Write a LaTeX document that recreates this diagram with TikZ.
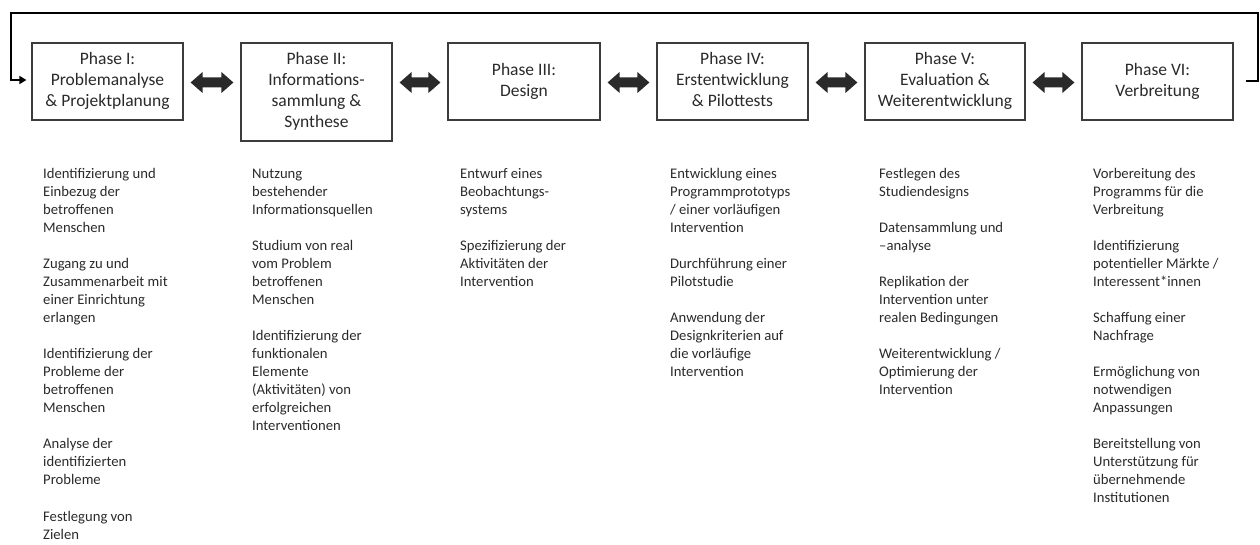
\documentclass[tikz,border=0pt]{standalone}
\usepackage{fontspec}
\setmainfont{Carlito}
\usetikzlibrary{calc,arrows.meta}

\definecolor{ink}{HTML}{2A2A2A}
\definecolor{frame}{HTML}{3C3C3C}

% text blocks: phase titles (centred) and activity lists (top-aligned)
\newcommand\phaselabel[1]{\fontsize{17.5bp}{21bp}\selectfont\begin{tabular}{@{}c@{}}#1\end{tabular}}
\newcommand\steplist[1]{\fontsize{14.67bp}{18bp}\selectfont\begin{tabular}[t]{@{}l@{}}#1\end{tabular}}
\newcommand\gap{\\[18bp]}

% thick two-headed block arrow between two tip coordinates
\newcommand\dblarrow[2]{%
  \fill[ink] (#1) -- ++(12bp,10.5bp) -- ++(0,-5.5bp) -- ($(#2)+(-12bp,5bp)$)
    -- ++(0,5.5bp) -- (#2) -- ++(-12bp,-10.5bp) -- ++(0,5.5bp)
    -- ($(#1)+(12bp,-5bp)$) -- ++(0,-5.5bp) -- cycle;}

\tikzset{
  phase/.style={draw=frame, line width=1.2bp, fill=white, inner sep=0pt,
    text=ink, minimum height=77bp},
  steps/.style={anchor=base west, inner sep=0pt, text=ink},
  feedback/.style={draw=black, line width=2bp},
}

\begin{document}
\begin{tikzpicture}[x=1bp, y=-1bp]
\useasboundingbox (0,0) rectangle (1260,545);

% phase boxes
\node[phase, minimum width=151bp] (p1) at (107.5,81.5)
  {\phaselabel{Phase I:\\Problemanalyse\\\& Projektplanung}};
\node[phase, minimum width=151bp, minimum height=98bp] (p2) at (316.5,92)
  {\phaselabel{Phase II:\\Informations-\\sammlung \&\\Synthese}};
\node[phase, minimum width=152bp] (p3) at (524,81.5)
  {\phaselabel{Phase III:\\Design}};
\node[phase, minimum width=151bp] (p4) at (732.5,81.5)
  {\phaselabel{Phase IV:\\Erstentwicklung\\\& Pilottests}};
\node[phase, minimum width=160bp] (p5) at (945,81.5)
  {\phaselabel{Phase V:\\Evaluation \&\\Weiterentwicklung}};
\node[phase, minimum width=151bp] (p6) at (1157.5,81.5)
  {\phaselabel{Phase VI:\\Verbreitung}};

% two-headed arrows between neighbouring phases
\foreach \a/\b in {p1/p2,p2/p3,p3/p4,p4/p5,p5/p6}{
  \coordinate (\a-l) at ($(\a.east|-p1.east)+(7bp,-1bp)$);
  \coordinate (\a-r) at ($(\b.west|-p1.east)+(-7bp,-1bp)$);
  \dblarrow{\a-l}{\a-r}
}

% feedback loop from the last phase back to the first
\coordinate (fbR) at (1258,13);
\coordinate (fbL) at (11,13);
\draw[feedback, -{Triangle[length=7bp,width=8bp]}, shorten >=5bp]
  ([xshift=12bp]p6.east) -| (fbR) -- (fbL) |- ([yshift=1.5bp]p1.west);

% activities of each phase
\node[steps] (s1) at (43,179) {\steplist{%
  Identifizierung und\\Einbezug der\\betroffenen\\Menschen\gap
  Zugang zu und\\Zusammenarbeit mit\\einer Einrichtung\\erlangen\gap
  Identifizierung der\\Probleme der\\betroffenen\\Menschen\gap
  Analyse der\\identifizierten\\Probleme\gap
  Festlegung von\\Zielen}};

\node[steps] (s2) at (252,179) {\steplist{%
  Nutzung\\bestehender\\Informationsquellen\gap
  Studium von real\\vom Problem\\betroffenen\\Menschen\gap
  Identifizierung der\\funktionalen\\Elemente\\(Aktivitäten) von\\erfolgreichen\\Interventionen}};

\node[steps] (s3) at (460,179) {\steplist{%
  Entwurf eines\\Beobachtungs-\\systems\gap
  Spezifizierung der\\Aktivitäten der\\Intervention}};

\node[steps] (s4) at (670,179) {\steplist{%
  Entwicklung eines\\Programmprototyps\\/ einer vorläufigen\\Intervention\gap
  Durchführung einer\\Pilotstudie\gap
  Anwendung der\\Designkriterien auf\\die vorläufige\\Intervention}};

\node[steps] (s5) at (879,179) {\steplist{%
  Festlegen des\\Studiendesigns\gap
  Datensammlung und\\–analyse\gap
  Replikation der\\Intervention unter\\realen Bedingungen\gap
  Weiterentwicklung /\\Optimierung der\\Intervention}};

\node[steps] (s6) at (1093,179) {\steplist{%
  Vorbereitung des\\Programms für die\\Verbreitung\gap
  Identifizierung\\potentieller Märkte /\\Interessent*innen\gap
  Schaffung einer\\Nachfrage\gap
  Ermöglichung von\\notwendigen\\Anpassungen\gap
  Bereitstellung von\\Unterstützung für\\übernehmende\\Institutionen}};
\end{tikzpicture}
\end{document}
